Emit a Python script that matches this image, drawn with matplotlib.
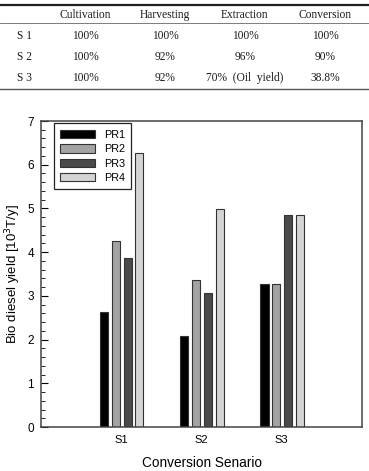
import matplotlib.pyplot as plt
from matplotlib.lines import Line2D
from matplotlib.ticker import MultipleLocator

# table data
table_header = ["Cultivation", "Harvesting", "Extraction", "Conversion"]
table_rows = ["S 1", "S 2", "S 3"]
table_cells = [
    ["100%", "100%", "100%", "100%"],
    ["100%", "92%", "96%", "90%"],
    ["100%", "92%", "70%  (Oil  yield)", "38.8%"],
]

# bar chart data
scenarios = ["S1", "S2", "S3"]
series_names = ["PR1", "PR2", "PR3", "PR4"]
pr1 = [2.62, 2.08, 3.27]
pr2 = [4.25, 3.37, 3.27]
pr3 = [3.86, 3.07, 4.84]
pr4 = [6.26, 4.98, 4.84]
series = [pr1, pr2, pr3, pr4]
colors = ["#000000", "#a3a3a3", "#4a4a4a", "#d4d4d4"]

plt.rcParams['font.family'] = ['Liberation Sans', 'DejaVu Sans']

fig = plt.figure(figsize=(3.69, 4.71), dpi=100)
W, H = 369.0, 471.0

# ---- table drawn in figure coords ----
serif = ['Liberation Serif', 'DejaVu Serif']
fig.add_artist(Line2D([0, 1], [1 - 5 / H, 1 - 5 / H], color='#222222', lw=1.6))
fig.add_artist(Line2D([0, 1], [1 - 22.5 / H, 1 - 22.5 / H], color='#666666', lw=0.6))
fig.add_artist(Line2D([0, 1], [1 - 89 / H, 1 - 89 / H], color='#555555', lw=1.0))
col_x = [85, 165, 245, 325]
for x, t in zip(col_x, table_header):
    fig.text(x / W, 1 - 15 / H, t, ha='center', va='center', family=serif,
             fontsize=8.3, color='#1a1a1a')
row_y = [36, 57, 78]
for y, name, cells in zip(row_y, table_rows, table_cells):
    fig.text(17 / W, 1 - y / H, name, ha='left', va='center', family=serif,
             fontsize=8.3, color='#1a1a1a')
    for x, t in zip(col_x, cells):
        fig.text(x / W, 1 - y / H, t, ha='center', va='center', family=serif,
                 fontsize=8.3, color='#1a1a1a')

# ---- bar chart ----
ax = fig.add_axes([41 / W, 44 / H, 321 / W, 306 / H])
offsets = [-0.215, -0.07, 0.08, 0.225]
xpos = [1, 2, 3]
for vals, off, c, name in zip(series, offsets, colors, series_names):
    ax.bar([x + off for x in xpos], vals, width=0.1, color=c,
           edgecolor='#333333', linewidth=0.8, label=name)

ax.set_xlim(0, 4)
ax.set_ylim(0, 7)
ax.set_xticks(xpos)
ax.set_xticklabels(scenarios)
ax.yaxis.set_major_locator(MultipleLocator(1))
ax.yaxis.set_minor_locator(MultipleLocator(0.2))
ax.tick_params(axis='y', which='major', direction='in', length=5, labelsize=8.5, pad=5)
ax.tick_params(axis='y', which='minor', direction='in', length=3)
ax.tick_params(axis='x', which='major', length=0, labelsize=8, pad=6)
for s in ax.spines.values():
    s.set_color('#444444')
    s.set_linewidth(1.1)

ax.set_xlabel("Conversion Senario", fontsize=9.8, labelpad=8)
ax.set_ylabel("Bio diesel yield [10$^3$T/y]", fontsize=9.5, labelpad=3)

leg = ax.legend(loc='upper left', bbox_to_anchor=(0.023, 1.01), fontsize=7.8,
                fancybox=False, edgecolor='#222222', framealpha=1,
                handlelength=3.2, handleheight=0.8, labelspacing=0.4,
                borderpad=0.6, handletextpad=0.8)
leg.get_frame().set_linewidth(0.9)

fig.savefig("out.png", dpi=100)
